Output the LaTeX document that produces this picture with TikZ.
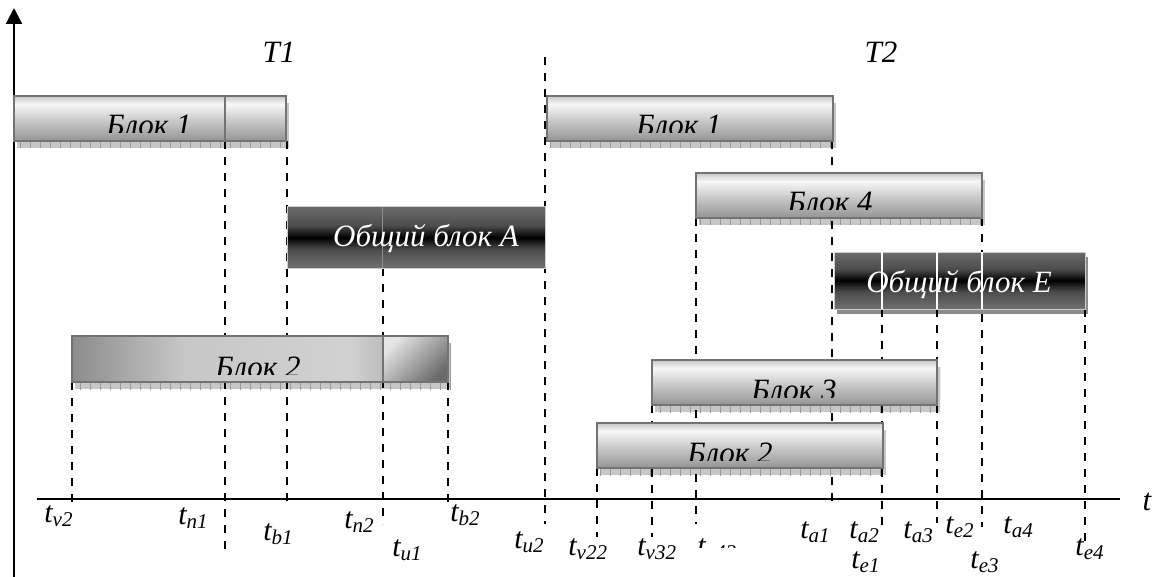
\documentclass[tikz,border=0pt]{standalone}
\usepackage{fontspec}
\setmainfont{Liberation Serif}
\usetikzlibrary{arrows.meta,patterns.meta}
\pgfdeclarelayer{back}
\pgfdeclarelayer{bg}
\pgfsetlayers{back,bg,main}
\pgfdeclareverticalshading{lightsh}{100bp}{rgb(0bp)=(0.58,0.58,0.58); rgb(25bp)=(0.58,0.58,0.58); rgb(47bp)=(0.78,0.78,0.78); rgb(66bp)=(0.97,0.97,0.97); rgb(75bp)=(0.78,0.78,0.78); rgb(100bp)=(0.78,0.78,0.78)}
\pgfdeclareverticalshading{darksh}{100bp}{rgb(0bp)=(0.44,0.44,0.44); rgb(25bp)=(0.44,0.44,0.44); rgb(40bp)=(0.30,0.30,0.30); rgb(50bp)=(0,0,0); rgb(60bp)=(0.30,0.30,0.30); rgb(75bp)=(0.42,0.42,0.42); rgb(100bp)=(0.42,0.42,0.42)}
\pgfdeclarehorizontalshading{leftsh}{100bp}{rgb(0bp)=(0.55,0.55,0.55); rgb(25bp)=(0.55,0.55,0.55); rgb(40bp)=(0.78,0.78,0.78); rgb(62bp)=(0.82,0.82,0.82); rgb(75bp)=(0.58,0.58,0.58); rgb(100bp)=(0.58,0.58,0.58)}
\newcommand{\blkfont}{\fontsize{15.5}{19}\selectfont\itshape}
\newcommand{\lblfont}{\fontsize{15}{18}\selectfont\itshape}
\begin{document}
\begin{tikzpicture}[x=0.5pt,y=-0.5pt,
  lblock/.style={shade, shading=lightsh, draw=black!55, line width=1pt, inner sep=0pt, outer sep=0pt, anchor=north west},
  dblock/.style={shade, shading=darksh, draw=black!20, line width=0.5pt, inner sep=0pt, outer sep=0pt, anchor=north west},
  btext/.style={font=\blkfont, anchor=base, inner sep=0pt},
  tlabel/.style={font=\lblfont, anchor=base west, inner sep=0pt},
  dline/.style={draw=black, line width=0.75pt, dash pattern=on 4pt off 4pt},
  divline/.style={draw=black!55, line width=1pt},
  shadowfill/.style={fill=black!22, postaction={pattern={Lines[angle=90,distance=5pt,line width=0.4pt]}, pattern color=black!40}},
  axisline/.style={draw=black, line width=1.1pt}
]
\useasboundingbox (0,0) rectangle (1155,577);
\begin{pgfonlayer}{back}
\fill[white] (0,0) rectangle (1155,577);
\end{pgfonlayer}

% blocks
\node[lblock, minimum width=136pt, minimum height=22.5pt] (b1a) at (14,96) {};
\node[dblock, minimum width=129pt, minimum height=30.5pt] (ba) at (287,207) {};
\node[lblock, shading=leftsh, minimum width=188pt, minimum height=23pt] (b2a) at (72,336) {};
\node[lblock, minimum width=143pt, minimum height=22.5pt] (b1b) at (547,96) {};
\node[lblock, minimum width=143pt, minimum height=22.5pt] (b4) at (696,173) {};
\node[dblock, minimum width=125.5pt, minimum height=28.5pt] (be) at (834,252) {};
\node[lblock, minimum width=142.5pt, minimum height=22.5pt] (b3) at (652,360) {};
\node[lblock, minimum width=143pt, minimum height=22.5pt] (b2b) at (597,423) {};

% coordinates
\coordinate (axb) at (14,577);
\coordinate (axt) at (14,8);
\coordinate (hxl) at (37,499);
\coordinate (hxr) at (1120,499);
\coordinate (b1div) at (225,0);
\coordinate (b2div) at (383,0);
\coordinate (badiv) at (382,0);
\coordinate (ed1) at (882,0);
\coordinate (ed2) at (937,0);
\coordinate (ed3) at (982,0);
\coordinate (dv2) at (72,505);
\coordinate (dn1) at (225,551);
\coordinate (db1) at (287,503);
\coordinate (dn2) at (383,524);
\coordinate (db2) at (448,503);
\coordinate (du2t) at (545,57);
\coordinate (du2b) at (545,524);
\coordinate (dv22) at (597,537);
\coordinate (dv32) at (652,537);
\coordinate (dv42) at (696,524);
\coordinate (da1) at (832,503);
\coordinate (da2) at (882,527);
\coordinate (da3) at (937,523);
\coordinate (de3) at (982,527);
\coordinate (de4) at (1085,543);

\begin{pgfonlayer}{bg}
% shadows
\foreach \b in {b1a,b1b,b4,b3,b2b,b2a}
  \path[shadowfill] ([xshift=1.5pt,yshift=-3.5pt]\b.south west) rectangle ([xshift=1.5pt,yshift=-3.5pt]\b.north east);
\fill[black!45] ([xshift=1.5pt,yshift=-2.5pt]be.south west) rectangle ([xshift=1.5pt,yshift=-2.5pt]be.north east);
% vertical axis
\draw[axisline, -{Triangle[length=8pt,width=8pt]}] (axb) -- (axt);
% dashed lines
\draw[dline] (dv2 |- b2a.south) -- (dv2);
\draw[dline] (dn1 |- b1a.south) -- (dn1);
\draw[dline] (db1 |- b1a.south) -- (db1);
\draw[dline] (dn2 |- ba.south) -- (dn2);
\draw[dline] (db2 |- b2a.south) -- (db2);
\draw[dline] (du2t) -- (du2b);
\draw[dline] (dv22 |- b2b.south) -- (dv22);
\draw[dline] (dv32 |- b3.south) -- (dv32);
\draw[dline] (dv42 |- b4.south) -- (dv42);
\draw[dline] (da1 |- b1b.south) -- (da1);
\draw[dline] (da2 |- be.south) -- (da2);
\draw[dline] (da3 |- be.south) -- (da3);
\draw[dline] (de3 |- b4.south) -- (de3);
\draw[dline] (de4 |- be.south) -- (de4);
\end{pgfonlayer}

% block details
\draw[divline] (b1div |- b1a.north) -- (b1div |- b1a.south);
\shade[top color=black!10, bottom color=black!58, shading angle=45] (b2div |- b2a.north) rectangle (b2a.south east);
\draw[divline] (b2div |- b2a.north) rectangle (b2a.south east);
\draw[black!45, line width=0.4pt] (badiv |- ba.north) -- (badiv |- ba.south);
\foreach \d in {ed1,ed2,ed3}
  \draw[white, line width=0.8pt] (\d |- be.north) -- (\d |- be.south);

% horizontal axis
\draw[axisline] (hxl) -- (hxr);

% block texts (clipped at the lower edge)
\begin{scope}
\clip (b1a.north west) rectangle ([yshift=4pt]b1a.south east);
\node[btext] (tb1a) at (149,136) {Блок 1};
\end{scope}
\begin{scope}
\clip (b1b.north west) rectangle ([yshift=4pt]b1b.south east);
\node[btext] (tb1b) at (679,136) {Блок 1};
\end{scope}
\begin{scope}
\clip (b4.north west) rectangle ([yshift=4pt]b4.south east);
\node[btext] (tb4) at (830,213) {Блок 4};
\end{scope}
\begin{scope}
\clip (b3.north west) rectangle ([yshift=4pt]b3.south east);
\node[btext] (tb3) at (794,400) {Блок 3};
\end{scope}
\begin{scope}
\clip (b2b.north west) rectangle ([yshift=4pt]b2b.south east);
\node[btext] (tb2b) at (730,463) {Блок 2};
\end{scope}
\begin{scope}
\clip (b2a.north west) rectangle ([yshift=4pt]b2a.south east);
\node[btext] (tb2a) at (258,377) {Блок 2};
\end{scope}
\node[btext, text=white] (tba) at (426,246) {Общий блок A};
\node[btext, text=white] (tbe) at (959,292) {Общий блок E};

% period labels
\node[btext] (T1) at (279,63) {T1};
\node[btext] (T2) at (881,63) {T2};
\node[btext] (tax) at (1147,510) {t};

% time labels
\node[tlabel] (lv2) at (44,522) {t\textsubscript{v2}};
\node[tlabel] (ln1) at (178,524) {t\textsubscript{n1}};
\node[tlabel] (lb1) at (263,540) {t\textsubscript{b1}};
\node[tlabel] (ln2) at (344,528) {t\textsubscript{n2}};
\node[tlabel] (lu1) at (392,556) {t\textsubscript{u1}};
\node[tlabel] (lb2) at (450,521) {t\textsubscript{b2}};
\node[tlabel] (lu2) at (514,548) {t\textsubscript{u2}};
\node[tlabel] (lv22) at (568,555) {t\textsubscript{v22}};
\node[tlabel] (lv32) at (637,555) {t\textsubscript{v32}};
\begin{scope}
\clip (690,530) rectangle (745,547);
\node[tlabel] (lv42) at (697,555) {t\textsubscript{v42}};
\end{scope}
\node[tlabel] (la1) at (800,538) {t\textsubscript{a1}};
\node[tlabel] (la2) at (849,538) {t\textsubscript{a2}};
\node[tlabel] (le1) at (851,568) {t\textsubscript{e1}};
\node[tlabel] (la3) at (903,538) {t\textsubscript{a3}};
\node[tlabel] (le2) at (945,533) {t\textsubscript{e2}};
\node[tlabel] (la4) at (1003,533) {t\textsubscript{a4}};
\node[tlabel] (le3) at (970,568) {t\textsubscript{e3}};
\node[tlabel] (le4) at (1075,555) {t\textsubscript{e4}};
\end{tikzpicture}
\end{document}
